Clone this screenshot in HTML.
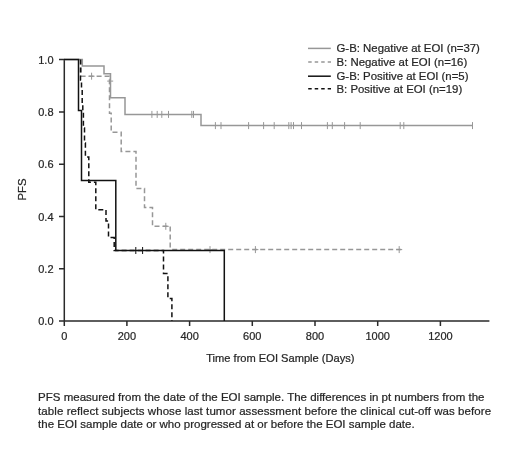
<!DOCTYPE html>
<html><head><meta charset="utf-8">
<style>
html,body{margin:0;padding:0;background:#fff;}
body{width:520px;height:458px;overflow:hidden;position:relative;font-family:"Liberation Sans",sans-serif;}
svg{position:absolute;left:0;top:0;will-change:transform;}
svg text{font-family:"Liberation Sans",sans-serif;fill:#262626;stroke:#262626;stroke-width:0.22px;}
</style></head>
<body>
<svg width="520" height="458" viewBox="0 0 520 458">
<!-- axes -->
<g stroke="#2a2a2a" stroke-width="1.5" fill="none">
<path d="M64.3,59.6 V326 M59,321.1 H489.4"/>
<path d="M59,59.6 H64.3 M59,111.9 H64.3 M59,164.2 H64.3 M59,216.5 H64.3 M59,268.8 H64.3"/>
<path d="M126.9,321.1 V326 M189.6,321.1 V326 M252.3,321.1 V326 M315,321.1 V326 M377.7,321.1 V326 M440.4,321.1 V326"/>
</g>
<g font-size="11" text-anchor="end">
<text x="53.5" y="63.6">1.0</text>
<text x="53.5" y="115.9">0.8</text>
<text x="53.5" y="168.2">0.6</text>
<text x="53.5" y="220.5">0.4</text>
<text x="53.5" y="272.8">0.2</text>
<text x="53.5" y="325.1">0.0</text>
</g>
<g font-size="11" text-anchor="middle">
<text x="64.3" y="339.5">0</text>
<text x="126.9" y="339.5">200</text>
<text x="189.6" y="339.5">400</text>
<text x="252.3" y="339.5">600</text>
<text x="315" y="339.5">800</text>
<text x="377.7" y="339.5">1000</text>
<text x="440.4" y="339.5">1200</text>
</g>
<text x="206.2" y="361.5" font-size="11.12">Time from EOI Sample (Days)</text>
<text transform="translate(26.3,200.5) rotate(-90)" font-size="11.4">PFS</text>

<!-- gray solid: G-B negative -->
<g stroke="#979797" stroke-width="1.5" fill="none">
<path d="M64,59.6 H82.3 V66.1 H104 V73.8 H110.5 V97.7 H125 V114.4 H201 V125.6 H472.5"/>
<path d="M151.9,110.9 v7 M157.2,110.9 v7 M161.8,110.9 v7 M168.5,110.9 v7 M191.8,110.9 v7 M193.5,110.9 v7
M215.4,122.1 v7 M221,122.1 v7 M248.6,122.1 v7 M263.6,122.1 v7 M274.2,122.1 v7 M288.8,122.1 v7 M291.1,122.1 v7 M293.5,122.1 v7 M301.5,122.1 v7 M327.4,122.1 v7 M332.3,122.1 v7 M344.6,122.1 v7 M360.2,122.1 v7 M400.2,122.1 v7 M403.8,122.1 v7 M472.5,122.1 v7" stroke-width="1"/>
</g>
<!-- gray dashed: B negative -->
<g stroke="#979797" stroke-width="1.5" fill="none">
<path d="M81.2,59.6 V76.2 H109.5 V113.2 H111.2 V132.3 H121.2 V151.4 H136 V188.4 H144.5 V207.4 H152.5 V226.3 H170.2 V249.6" stroke-dasharray="5 3"/>
<path d="M170.2,249.6 H402.7" stroke-dasharray="5 3" stroke-dashoffset="-2"/>
<path d="M91.6,72.7 v7 M88.6,76.2 h6 M110.2,77.6 v7 M107.2,81.1 h6 M165.8,222.8 v7 M162.8,226.3 h6 M210,246.1 v7 M207,249.6 h6 M255.4,246.1 v7 M252.4,249.6 h6 M399.2,246.1 v7 M396.2,249.6 h6" stroke-width="1"/>
</g>
<!-- black solid: G-B positive -->
<g stroke="#111" stroke-width="1.5" fill="none">
<path d="M64,59.6 H78.5 V110.4 H81.5 V180.5 H115.8 V250.5 H224.3 V321.1"/>
<path d="M135.8,247 v7 M142.6,247 v7" stroke-width="1"/>
</g>
<!-- black dashed: B positive -->
<g stroke="#111" stroke-width="1.5" fill="none">
<path d="M80.5,59.6 V80 H81.5 V88 H82.2 V105 H82.8 V112 H83.4 V128 H84.5 V143 H85.4 V157 H88.8 V182.2 H95.8 V209.8 H106 V221 H108.5 V237.6 H114.2 V250.5 H163.5 V273.5 H167.9 V298.4 H171.9 V321.1" stroke-dasharray="5 3"/>
</g>

<!-- legend -->
<g stroke-width="1.5" fill="none">
<path d="M308,48.4 H330.8" stroke="#979797"/>
<path d="M308.2,61.9 H331" stroke="#979797" stroke-dasharray="3.5 3"/>
<path d="M308,76.2 H330.8" stroke="#111"/>
<path d="M308.2,88.8 H331" stroke="#111" stroke-dasharray="3.5 3"/>
</g>
<g font-size="11.4">
<text x="336.5" y="52.4">G-B: Negative at EOI (n=37)</text>
<text x="336.5" y="65.7">B: Negative at EOI (n=16)</text>
<text x="336.5" y="79.6">G-B: Positive at EOI (n=5)</text>
<text x="336.5" y="92.7">B: Positive at EOI (n=19)</text>
</g>

<!-- caption -->
<g font-size="11.5">
<text x="38.1" y="400.9">PFS measured from the date of the EOI sample. The differences in pt numbers from the</text>
<text x="38.1" y="414.6" textLength="453" lengthAdjust="spacing">table reflect subjects whose last tumor assessment before the clinical cut-off was before</text>
<text x="38.1" y="428.2">the EOI sample date or who progressed at or before the EOI sample date.</text>
</g>
</svg>
</body></html>
